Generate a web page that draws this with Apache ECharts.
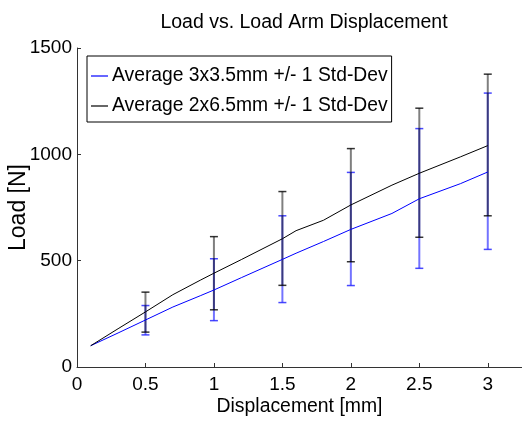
<!DOCTYPE html>
<html>
<head>
<meta charset="utf-8">
<script src="https://cdn.jsdelivr.net/npm/echarts@6/dist/echarts.min.js"></script>
<style>
html,body{margin:0;padding:0;background:#fff;}
#chart{width:522px;height:421px;}
</style>
</head>
<body>
<div id="chart"></div>
<script>
// Data
var lineX = [0.1, 0.3, 0.5, 0.7, 0.9, 1.0, 1.2, 1.5, 1.6, 1.8, 2.0, 2.3, 2.5, 2.8, 3.0];
var blueMean = [100, 160, 221, 282, 335, 362, 420, 506, 535, 590, 647, 722, 791, 862, 917];
var blackMean = [100, 180, 259, 340, 408, 441, 505, 603, 641, 690, 762, 855, 911, 988, 1041];

var errX = [0.5, 1.0, 1.5, 2.0, 2.5, 3.0];
var blueLow = [151, 218, 303, 383, 464, 553];
var blueHigh = [289, 509, 711, 915, 1121, 1288];
var blackLow = [164, 269, 384, 495, 610, 711];
var blackHigh = [352, 613, 825, 1027, 1217, 1377];

var xTicks = ['0', '0.5', '1', '1.5', '2', '2.5', '3'];
var yTicks = ['0', '500', '1000', '1500'];

var blueName = 'Average 3x3.5mm +/- 1 Std-Dev';
var blackName = 'Average 2x6.5mm +/- 1 Std-Dev';

function pairs(xs, ys) { return xs.map(function (x, i) { return [x, ys[i]]; }); }
function triples(xs, lo, hi) { return xs.map(function (x, i) { return [x, lo[i], hi[i]]; }); }

function errRender(barColor, capColor) {
  return function (params, api) {
    var x = api.value(0);
    var lo = api.coord([x, api.value(1)]);
    var hi = api.coord([x, api.value(2)]);
    var cw = 4;
    return {
      type: 'group',
      children: [
        { type: 'line', shape: { x1: lo[0], y1: lo[1], x2: hi[0], y2: hi[1] },
          style: { stroke: barColor, lineWidth: 2 } },
        { type: 'line', shape: { x1: lo[0] - cw, y1: lo[1], x2: lo[0] + cw, y2: lo[1] },
          style: { stroke: capColor, lineWidth: 1.5 } },
        { type: 'line', shape: { x1: hi[0] - cw, y1: hi[1], x2: hi[0] + cw, y2: hi[1] },
          style: { stroke: capColor, lineWidth: 1.5 } }
      ]
    };
  };
}

var FONT = "'Liberation Sans', Arial, Helvetica, sans-serif";
var chart = echarts.init(document.getElementById('chart'), null, { renderer: 'canvas' });
chart.setOption({
  animation: false,
  backgroundColor: '#fff',
  textStyle: { fontFamily: FONT },
  title: {
    text: 'Load vs. Load Arm Displacement',
    left: 299, textAlign: 'center', top: 8,
    textStyle: { fontFamily: FONT, fontSize: 19.5, fontWeight: 'normal', color: '#000' }
  },
  legend: {
    orient: 'vertical',
    left: 87, top: 56,
    padding: [9, 4, 5, 4],
    itemGap: 8,
    itemWidth: 17, itemHeight: 1.2,
    icon: 'rect',
    backgroundColor: '#fff',
    borderColor: '#000', borderWidth: 1,
    textStyle: { fontFamily: FONT, fontSize: 19.3, color: '#000', lineHeight: 22, padding: [0, 0, 0, -1] },
    data: [blueName, blackName]
  },
  grid: { left: 77, right: 0, top: 48, bottom: 54, containLabel: false, outerBoundsMode: 'none' },
  xAxis: {
    type: 'value', min: 0, max: 3.25, interval: 0.5,
    name: 'Displacement [mm]', nameLocation: 'middle', nameGap: 30, nameMoveOverlap: false,
    nameTextStyle: { fontFamily: FONT, fontSize: 19.4, color: '#000' },
    axisLine: { show: true, onZero: false, lineStyle: { color: '#333', width: 1 } },
    axisTick: { show: true, inside: true, length: 4, lineStyle: { color: '#333' } },
    axisLabel: {
      margin: 8, fontFamily: FONT, fontSize: 19, color: '#000', showMaxLabel: false,
      formatter: function (v) {
        var idx = Math.round(v / 0.5);
        return Math.abs(v - idx * 0.5) < 1e-6 && idx < xTicks.length ? xTicks[idx] : '';
      }
    },
    splitLine: { show: false }
  },
  yAxis: {
    type: 'value', min: 0, max: 1500, interval: 500,
    name: 'Load [N]', nameLocation: 'middle', nameGap: 47, nameMoveOverlap: false,
    nameTextStyle: { fontFamily: FONT, fontSize: 23, color: '#000' },
    axisLine: { show: true, lineStyle: { color: '#333', width: 1 } },
    axisTick: { show: true, inside: true, length: 4, lineStyle: { color: '#333' } },
    axisLabel: {
      margin: 5, fontFamily: FONT, fontSize: 19, color: '#000',
      formatter: function (v) { var i = Math.round(v / 500); return yTicks[i] !== undefined ? yTicks[i] : ''; }
    },
    splitLine: { show: false }
  },
  series: [
    {
      name: blueName, type: 'line', data: pairs(lineX, blueMean),
      symbol: 'none', color: '#0000ff', lineStyle: { color: '#0000ff', width: 1 }, z: 5
    },
    {
      name: blackName, type: 'line', data: pairs(lineX, blackMean),
      symbol: 'none', color: '#000', lineStyle: { color: '#000', width: 1 }, z: 5
    },
    {
      name: 'blueErr', type: 'custom', data: triples(errX, blueLow, blueHigh),
      renderItem: errRender('rgba(0,0,255,0.55)', 'rgba(40,40,255,0.85)'),
      encode: { x: 0, y: [1, 2] }, z: 3, silent: true
    },
    {
      name: 'blackErr', type: 'custom', data: triples(errX, blackLow, blackHigh),
      renderItem: errRender('rgba(0,0,0,0.5)', 'rgba(0,0,0,0.8)'),
      encode: { x: 0, y: [1, 2] }, z: 4, silent: true
    }
  ]
});
</script>
</body>
</html>
